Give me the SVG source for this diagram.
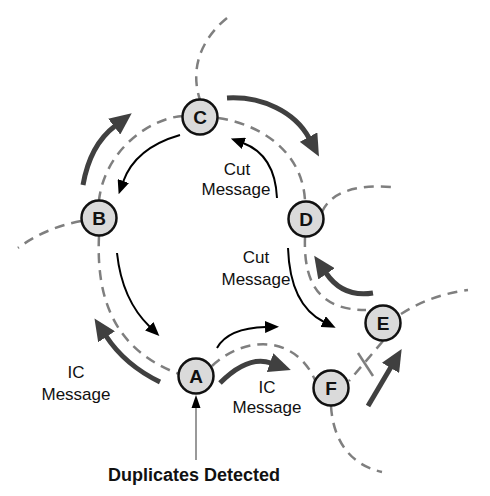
<svg xmlns="http://www.w3.org/2000/svg" width="490" height="496" viewBox="0 0 490 496">
<defs>
<style>
.ring{fill:none;stroke:#7f7f7f;stroke-width:2.5;stroke-dasharray:10 7}
.bold{fill:none;stroke:#404040;stroke-width:5;marker-end:url(#hb)}
.thin{fill:none;stroke:#000;stroke-width:2;marker-end:url(#ht)}
.node circle{fill:#dadada;stroke:#111;stroke-width:2.5}
.node text{font-family:"Liberation Sans",Arial,sans-serif;font-weight:bold;font-size:19px;fill:#111;text-anchor:middle}
.lbl{font-family:"Liberation Sans",Arial,sans-serif;font-size:17px;fill:#111;text-anchor:middle}
</style>
<marker id="hb" markerUnits="userSpaceOnUse" markerWidth="22" markerHeight="20" viewBox="0 0 22 20" refX="1" refY="10" orient="auto"><path d="M0,0 L22,10 L0,20 z" fill="#404040"/></marker>
<marker id="ht" markerUnits="userSpaceOnUse" markerWidth="14" markerHeight="12" viewBox="0 0 14 12" refX="1" refY="6" orient="auto"><path d="M0,0 L14,6 L0,12 z" fill="#000"/></marker>
<marker id="hd" markerUnits="userSpaceOnUse" markerWidth="9" markerHeight="12" viewBox="0 0 9 12" refX="1" refY="6" orient="auto"><path d="M0,0 L12,4.5 L0,9 z" fill="#000" transform="rotate(0)"/></marker>
</defs>
<g id="connectors">
<path class="ring" d="M227,18 C200,40 190,70 200,100"/>
<path class="ring" d="M183,116 C150,118 105,150 99,200"/>
<path class="ring" d="M81,221 Q45,228 18,248"/>
<path class="ring" d="M99,236 C96,300 115,350 179,374"/>
<path class="ring" d="M218,118 C265,125 303,155 305,201"/>
<path class="ring" d="M322,212 Q335,183 392,187"/>
<path class="ring" d="M305,237 C303,290 325,310 366,310"/>
<path class="ring" d="M401,314 Q430,295 468,290"/>
<path class="ring" d="M383,341 L349,381"/>
<path d="M358,353 L373,376" stroke="#7f7f7f" stroke-width="2.5" fill="none"/>
<path class="ring" d="M212,366 C245,335 295,335 315,380"/>
<path class="ring" d="M331,406 C333,440 350,465 382,472"/>
<path class="bold" d="M83,185 Q90,145 115,126"/>
<path class="bold" d="M227,98 C262,96 295,112 309,138"/>
<path class="bold" d="M373,293 Q343,298 326,273"/>
<path class="bold" d="M368,406 L391,367"/>
<path class="bold" d="M220,383 Q248,355 271,363"/>
<path class="bold" d="M160,382 Q125,365 106,336"/>
<path class="thin" d="M180,135 Q135,148 123,182"/>
<path class="thin" d="M277,198 Q275,155 243,143"/>
<path class="thin" d="M117,253 Q122,300 150,327"/>
<path class="thin" d="M288,248 Q290,305 324,322"/>
<path class="thin" d="M217,348 Q228,328 266,327"/>
<line x1="196" y1="460" x2="196" y2="408" stroke="#777" stroke-width="1.5"/>
<path d="M196,395 L200.5,408 L191.5,408 z" fill="#000"/>
</g>
<g id="node-C" class="node"><circle cx="200" cy="117" r="17.5"/><text x="200" y="124">C</text></g>
<g id="node-B" class="node"><circle cx="99" cy="218" r="17.5"/><text x="99" y="225">B</text></g>
<g id="node-D" class="node"><circle cx="306" cy="219" r="17.5"/><text x="306" y="226">D</text></g>
<g id="node-A" class="node"><circle cx="196" cy="376" r="17.5"/><text x="196" y="383">A</text></g>
<g id="node-E" class="node"><circle cx="383" cy="323" r="17.5"/><text x="383" y="330">E</text></g>
<g id="node-F" class="node"><circle cx="331" cy="388" r="17.5"/><text x="331" y="395">F</text></g>
<g id="labels">
<text class="lbl" x="237" y="175">Cut</text>
<text class="lbl" x="236" y="195">Message</text>
<text class="lbl" x="256" y="263">Cut</text>
<text class="lbl" x="256" y="285">Message</text>
<text class="lbl" x="76" y="378">IC</text>
<text class="lbl" x="76" y="400">Message</text>
<text class="lbl" x="267" y="393">IC</text>
<text class="lbl" x="267" y="413">Message</text>
<text class="lbl" x="194" y="481" style="font-weight:bold;font-size:18px">Duplicates Detected</text>
</g>
</svg>
